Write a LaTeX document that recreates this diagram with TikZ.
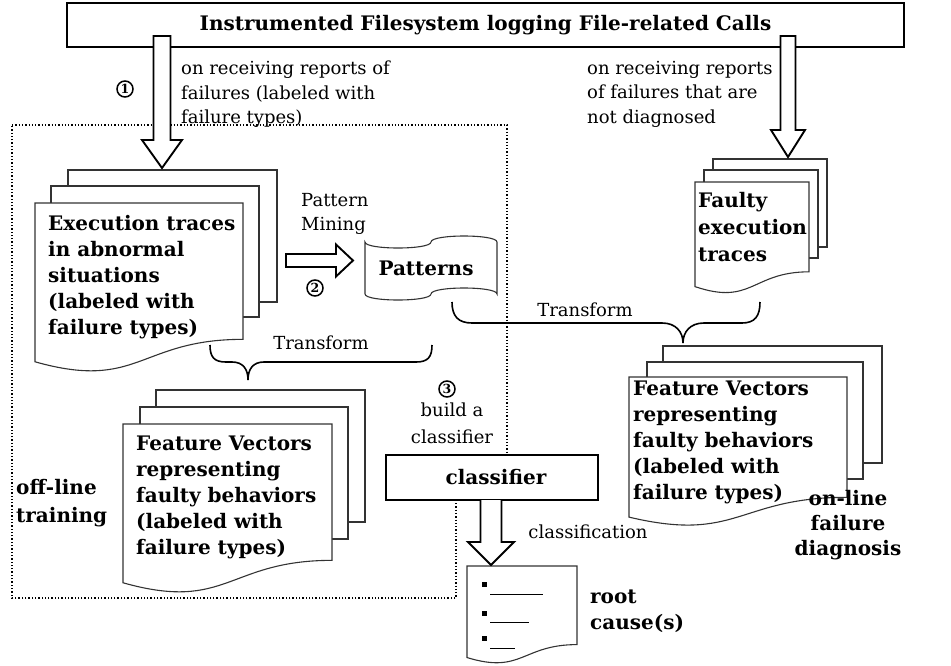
\documentclass[tikz,border=0pt]{standalone}
\usepackage{fontspec}
\setmainfont{DejaVu Serif}
\usetikzlibrary{calc}

\tikzset{
  docline/.style={draw=black!80, line width=1.1pt, fill=white},
  pageline/.style={draw=black!80, line width=1.1pt},
  blockline/.style={draw=black, line width=1.9pt, fill=white, line join=miter},
  framebox/.style={draw=black, line width=2.4pt, fill=white, inner sep=0pt},
  bracket/.style={draw=black, line width=1.6pt},
  region/.style={draw=black, line width=1.3pt, dotted},
  boldtxt/.style={font=\bfseries\fontsize{20}{26}\selectfont, align=left, inner sep=0pt, anchor=north west},
  plaintxt/.style={font=\fontsize{18}{24.5}\selectfont, align=left, inner sep=0pt, anchor=north west},
  circnum/.style={circle, draw=black, line width=1.5pt, inner sep=0pt, minimum size=16pt,
                  font=\bfseries\fontsize{12.5}{12.5}\selectfont},
}

% flowchart "document" page: left x, top y, width, height
\newcommand{\docshape}[4]{%
  \draw[docline] (#1,#2) -- ({#1+#3},#2) -- ({#1+#3},{#2+0.802*#4})
    .. controls ({#1+0.5*#3},{#2+0.802*#4}) and ({#1+0.5*#3},{#2+1.107*#4})
    .. (#1,{#2+0.934*#4}) -- cycle;}

% hollow block arrow: start, tip, half shaft width, half head width, head length
\newcommand{\blockarrow}[5]{%
  \coordinate (ba-h) at ($(#2)!#5!(#1)$);
  \draw[blockline] ($(#1)!#3!90:(#2)$) -- ($(ba-h)!#3!-90:(#1)$)
    -- ($(ba-h)!#4!-90:(#1)$) -- (#2) -- ($(ba-h)!#4!90:(#1)$)
    -- ($(ba-h)!#3!90:(#1)$) -- ($(#1)!#3!-90:(#2)$) -- cycle;}

% same, with the shaft left open at its start
\newcommand{\openarrow}[5]{%
  \coordinate (ba-h) at ($(#2)!#5!(#1)$);
  \fill[white] ($(#1)!#3!90:(#2)$) -- ($(ba-h)!#3!-90:(#1)$)
    -- ($(ba-h)!#4!-90:(#1)$) -- (#2) -- ($(ba-h)!#4!90:(#1)$)
    -- ($(ba-h)!#3!90:(#1)$) -- ($(#1)!#3!-90:(#2)$) -- cycle;
  \draw[blockline, fill=none] ($(#1)!#3!90:(#2)$) -- ($(ba-h)!#3!-90:(#1)$)
    -- ($(ba-h)!#4!-90:(#1)$) -- (#2) -- ($(ba-h)!#4!90:(#1)$)
    -- ($(ba-h)!#3!90:(#1)$) -- ($(#1)!#3!-90:(#2)$);}

\begin{document}
\begin{tikzpicture}[x=1pt, y=-1pt]
\path[use as bounding box] (0,0) rectangle (951,665);

% off-line training region
\draw[region] (12,125) -- (507,125) -- (507,478) -- (456,478) -- (456,598) -- (12,598) -- cycle;

% source of all traces
\node[framebox, minimum width=837pt, minimum height=44pt,
      font=\bfseries\fontsize{20}{24}\selectfont] (bar) at (485.5,25)
  {Instrumented Filesystem logging File-related Calls};

% labelled traces for training
\draw[pageline] (68,186) -- (68,170) -- (277,170) -- (277,302) -- (259,302);
\draw[pageline] (51,203) -- (51,186) -- (259,186) -- (259,317) -- (243,317);
\docshape{35}{203}{208}{170}
\coordinate (exec) at (139,186);
\node[boldtxt] (exectxt) at (48,215.5)
  {Execution traces\\in abnormal\\situations\\(labeled with\\failure types)};

% undiagnosed traces
\draw[pageline] (713,170) -- (713,159) -- (827,159) -- (827,247) -- (818,247);
\draw[pageline] (704,182) -- (704,170) -- (818,170) -- (818,258) -- (809,258);
\docshape{695}{182}{114}{112}
\coordinate (faulty) at (770,159);
\node[boldtxt, font=\bfseries\fontsize{20}{27}\selectfont] (faultytxt) at (698,192.5)
  {Faulty\\execution\\traces};

% mined patterns (punched tape)
\draw[docline] (365,242) .. controls (365,250) and (431,250) .. (431,242)
  .. controls (431,234) and (497,234) .. (497,242) -- (497,294)
  .. controls (497,286) and (431,286) .. (431,294)
  .. controls (431,302) and (365,302) .. (365,294) -- cycle;
\node[font=\bfseries\fontsize{20}{24}\selectfont, inner sep=0pt] (patterns) at (426,268) {Patterns};

% training feature vectors
\draw[pageline] (156,407) -- (156,390) -- (365,390) -- (365,522) -- (348,522);
\draw[pageline] (140,424) -- (140,407) -- (348,407) -- (348,539) -- (332,539);
\docshape{123}{424}{209}{170}
\node[boldtxt] (fvtrain) at (136,435.5)
  {Feature Vectors\\representing\\faulty behaviors\\(labeled with\\failure types)};

% diagnosis feature vectors
\draw[pageline] (663,362) -- (663,346) -- (882,346) -- (882,463) -- (863,463);
\draw[pageline] (647,377) -- (647,362) -- (863,362) -- (863,479) -- (847,479);
\docshape{629}{377}{218}{150}
\node[boldtxt] (fvdiag) at (633,380.5)
  {Feature Vectors\\representing\\faulty behaviors\\(labeled with\\failure types)};

% classifier
\node[framebox, minimum width=212pt, minimum height=45pt,
      font=\bfseries\fontsize{20}{24}\selectfont] (clf) at (492,477.5) {\hspace{8pt}classifier};

% root causes
\docshape{467}{566}{110}{98}
\coordinate (root) at (522,566);
\fill (482,582) rectangle (486.5,586.5);
\fill (482,611) rectangle (486.5,615.5);
\fill (482,636) rectangle (486.5,640.5);
\draw[line width=1pt] (490,594) -- (543,594);
\draw[line width=1pt] (490,622) -- (529,622);
\draw[line width=1pt] (490,648) -- (515,648);
\node[boldtxt] (roottxt) at (590,590) {root\\cause(s)};

% hollow arrows
\coordinate (a1s) at (162,36);
\coordinate (a1t) at (162,168);
\blockarrow{a1s}{a1t}{8.5pt}{20pt}{28pt}
\coordinate (a2s) at (788,36);
\coordinate (a2t) at (788,157);
\blockarrow{a2s}{a2t}{7.5pt}{17pt}{27pt}
\coordinate (pms) at (286,260.5);
\coordinate (pmt) at (353,260.5);
\blockarrow{pms}{pmt}{6.5pt}{16pt}{17pt}
\coordinate (cls) at (491,500);
\coordinate (clt) at (491,565);
\openarrow{cls}{clt}{10.5pt}{23pt}{23pt}

% braces
\draw[bracket] (210,345) .. controls (210,357) and (214,362) .. (226,362) -- (232,362)
  .. controls (243,362) and (248,369) .. (248,380)
  .. controls (248,369) and (253,362) .. (264,362) -- (416,362)
  .. controls (428,362) and (432,357) .. (432,345);
\draw[bracket] (452,302) .. controls (452,316) and (458,323) .. (472,323) -- (662,323)
  .. controls (676,323) and (683,332) .. (683,343)
  .. controls (683,332) and (690,323) .. (704,323) -- (742,323)
  .. controls (755,323) and (760,316) .. (760,302);

% labels
\node[plaintxt] (lbl1) at (181,61) {on receiving reports of\\failures (labeled with\\failure types)};
\node[plaintxt] (lbl2) at (587,61) {on receiving reports\\of failures that are\\not diagnosed};
\node[plaintxt] (mining) at (301,193) {Pattern\\Mining};
\node[font=\fontsize{18}{22}\selectfont, inner sep=0pt] (tr1) at (321,343) {Transform};
\node[font=\fontsize{18}{22}\selectfont, inner sep=0pt] (tr2) at (585,310) {Transform};
\node[plaintxt, anchor=center, align=center, font=\fontsize{18}{27}\selectfont] (build) at (452,423) {build a\\classifier};
\node[font=\fontsize{18}{22}\selectfont, inner sep=0pt] (clsn) at (588,532) {classification};
\node[boldtxt, font=\bfseries\fontsize{20}{28}\selectfont] (offline) at (16,479.5) {off-line\\training};
\node[boldtxt, anchor=center, align=center, font=\bfseries\fontsize{20}{25}\selectfont] (online) at (848,525) {on-line\\failure\\diagnosis};
\node[circnum] (c1) at (125,89) {1};
\node[circnum] (c2) at (315,288) {2};
\node[circnum] (c3) at (447,389) {3};
\end{tikzpicture}
\end{document}
